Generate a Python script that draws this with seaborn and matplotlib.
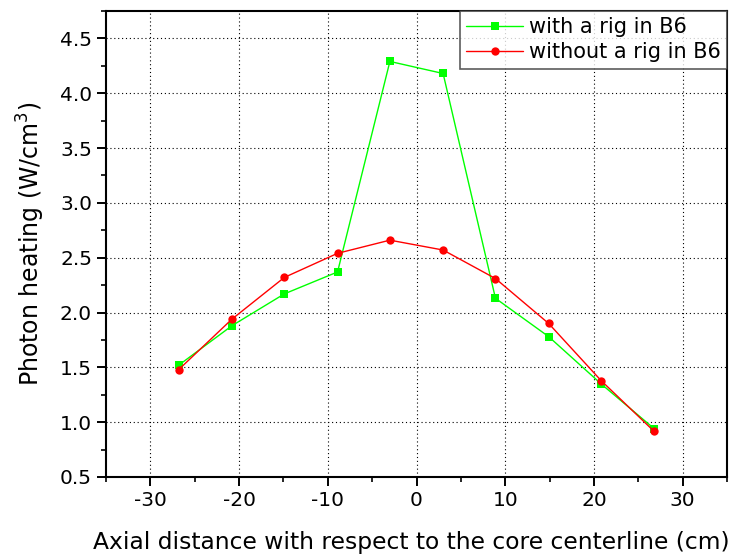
import numpy as np
import pandas as pd
import matplotlib
matplotlib.use("Agg")
import matplotlib.pyplot as plt
from matplotlib.ticker import MultipleLocator
import seaborn as sns

# axial positions (cm) and photon heating (W/cm^3)
axial_pos = [-26.8, -20.8, -14.9, -8.9, -3.0, 3.0, 8.9, 14.9, 20.8, 26.8]
with_rig = [1.52, 1.88, 2.17, 2.37, 4.29, 4.18, 2.13, 1.78, 1.35, 0.94]
without_rig = [1.48, 1.94, 2.32, 2.54, 2.66, 2.57, 2.31, 1.90, 1.38, 0.915]

label_with = "with a rig in B6"
label_without = "without a rig in B6"

sns.set_style("ticks")
plt.rcParams['font.family'] = ['DejaVu Sans']
plt.rcParams['mathtext.fontset'] = 'dejavusans'
plt.rcParams['axes.unicode_minus'] = False
plt.rcParams['text.color'] = 'black'
plt.rcParams['axes.labelcolor'] = 'black'
plt.rcParams['xtick.color'] = 'black'
plt.rcParams['ytick.color'] = 'black'

fig = plt.figure(figsize=(7.36, 5.57), dpi=100)
ax = fig.add_axes([106 / 736, 1 - 477 / 557, 621 / 736, 466 / 557])

sns.lineplot(x=axial_pos, y=with_rig, ax=ax, color='#00ff00', marker='s',
             markersize=5.5, markeredgewidth=0, linewidth=1.0, label=label_with)
sns.lineplot(x=axial_pos, y=without_rig, ax=ax, color='#ff0000', marker='o',
             markersize=6, markeredgewidth=0, linewidth=1.0, label=label_without)

ax.set_xlim(-35, 35)
ax.set_ylim(0.5, 4.75)
ax.xaxis.set_major_locator(MultipleLocator(10))
ax.xaxis.set_minor_locator(MultipleLocator(5))
ax.yaxis.set_major_locator(MultipleLocator(0.5))
ax.yaxis.set_minor_locator(MultipleLocator(0.25))
ax.tick_params(which='major', direction='out', length=6.5, width=1.4, labelsize=14.5)
ax.tick_params(which='minor', direction='out', length=3.5, width=1.2)

ax.grid(True, which='major', linestyle=(0, (1, 2.5)), color='black', linewidth=0.8)
ax.set_axisbelow(True)
for side in ['top', 'right', 'bottom', 'left']:
    ax.spines[side].set_visible(True)
    ax.spines[side].set_linewidth(1.5)
    ax.spines[side].set_color('black')

ax.set_xlabel("Axial distance with respect to the core centerline (cm)",
              fontsize=16.8)
ax.xaxis.set_label_coords(0.492, -0.115)
ax.set_ylabel("Photon heating (W/cm$^3$)", fontsize=17, labelpad=9)

leg = ax.legend(loc='upper right', bbox_to_anchor=(1, 1), borderaxespad=0,
                fontsize=15, frameon=True, fancybox=False, handlelength=2.7,
                handletextpad=0.3, labelspacing=0.25, borderpad=0.3)
leg.get_frame().set_edgecolor('#333333')
leg.get_frame().set_linewidth(1.2)

fig.savefig("out.png", dpi=100)
